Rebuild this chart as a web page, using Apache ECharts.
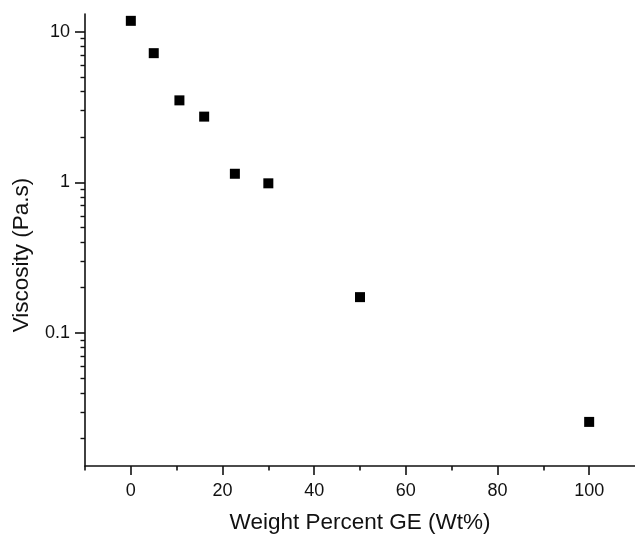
<!DOCTYPE html>
<html>
<head>
<meta charset="utf-8">
<style>
  html, body { margin: 0; padding: 0; background: #fff; }
  #chart { width: 635px; height: 535px; }
</style>
<script src="https://cdn.jsdelivr.net/npm/echarts@6/dist/echarts.min.js"></script>
</head>
<body>
<div id="chart"></div>
<script>
// Viscosity vs. GE content
const weightPercent = [0, 5, 10.6, 16, 22.7, 30, 50, 100];
const viscosity = [11.8, 7.2, 3.5, 2.73, 1.14, 0.985, 0.173, 0.0257];

const xMajorTicks = [0, 20, 40, 60, 80, 100];
const xMinorTicks = [-10, 10, 30, 50, 70, 90];
const yMajorTicks = [0.1, 1, 10];
const yMinorTicks = [0.02, 0.03, 0.04, 0.05, 0.06, 0.07, 0.08, 0.09,
                     0.2, 0.3, 0.4, 0.5, 0.6, 0.7, 0.8, 0.9,
                     2, 3, 4, 5, 6, 7, 8, 9];

const FONT = 'Liberation Sans, Arial, Helvetica, sans-serif';
const INK = '#111';

const xRange = { min: -10, max: 110 };
const yRange = { min: 0.0131, max: 13.1 };

const chart = echarts.init(document.getElementById('chart'), null, { renderer: 'canvas' });

chart.setOption({
  animation: false,
  backgroundColor: '#fff',
  grid: { left: 85, right: 0, top: 14, bottom: 69, containLabel: false, outerBoundsMode: 'none' },
  xAxis: [
    {
      type: 'value', position: 'bottom', ...xRange,
      name: 'Weight Percent GE (Wt%)', nameLocation: 'middle', nameGap: 45,
      nameTextStyle: { fontFamily: FONT, fontSize: 22.5, color: INK },
      axisLine: { show: true, onZero: false, lineStyle: { color: INK, width: 1.6 } },
      axisTick: { show: true, inside: false, length: 9, customValues: xMajorTicks,
                  lineStyle: { color: INK, width: 1.6 } },
      axisLabel: { show: true, customValues: xMajorTicks, margin: 16,
                   fontFamily: FONT, fontSize: 18, color: INK },
      splitLine: { show: false }
    },
    {
      type: 'value', position: 'bottom', ...xRange,
      axisLine: { show: false, onZero: false },
      axisTick: { show: true, inside: false, length: 4.5, customValues: xMinorTicks,
                  lineStyle: { color: INK, width: 1.6 } },
      axisLabel: { show: false },
      splitLine: { show: false }
    }
  ],
  yAxis: [
    {
      type: 'log', position: 'left', ...yRange,
      name: 'Viscosity (Pa.s)', nameLocation: 'middle', nameGap: 52,
      nameTextStyle: { fontFamily: FONT, fontSize: 22.5, color: INK, padding: [0, 30, 0, 0] },
      axisLine: { show: true, onZero: false, lineStyle: { color: INK, width: 1.6 } },
      axisTick: { show: true, inside: false, length: 10, customValues: yMajorTicks,
                  lineStyle: { color: INK, width: 1.6 } },
      axisLabel: { show: true, customValues: yMajorTicks, margin: 15,
                   fontFamily: FONT, fontSize: 18, color: INK,
                   formatter: v => String(v) },
      splitLine: { show: false }
    },
    {
      type: 'log', position: 'left', ...yRange,
      axisLine: { show: false, onZero: false },
      axisTick: { show: true, inside: false, length: 4.5, customValues: yMinorTicks,
                  lineStyle: { color: INK, width: 1.4 } },
      axisLabel: { show: false },
      splitLine: { show: false }
    }
  ],
  series: [
    {
      type: 'scatter',
      xAxisIndex: 0, yAxisIndex: 0,
      symbol: 'rect', symbolSize: 10,
      itemStyle: { color: '#000', opacity: 1 },
      data: weightPercent.map((x, i) => [x, viscosity[i]])
    }
  ]
});
</script>
</body>
</html>
